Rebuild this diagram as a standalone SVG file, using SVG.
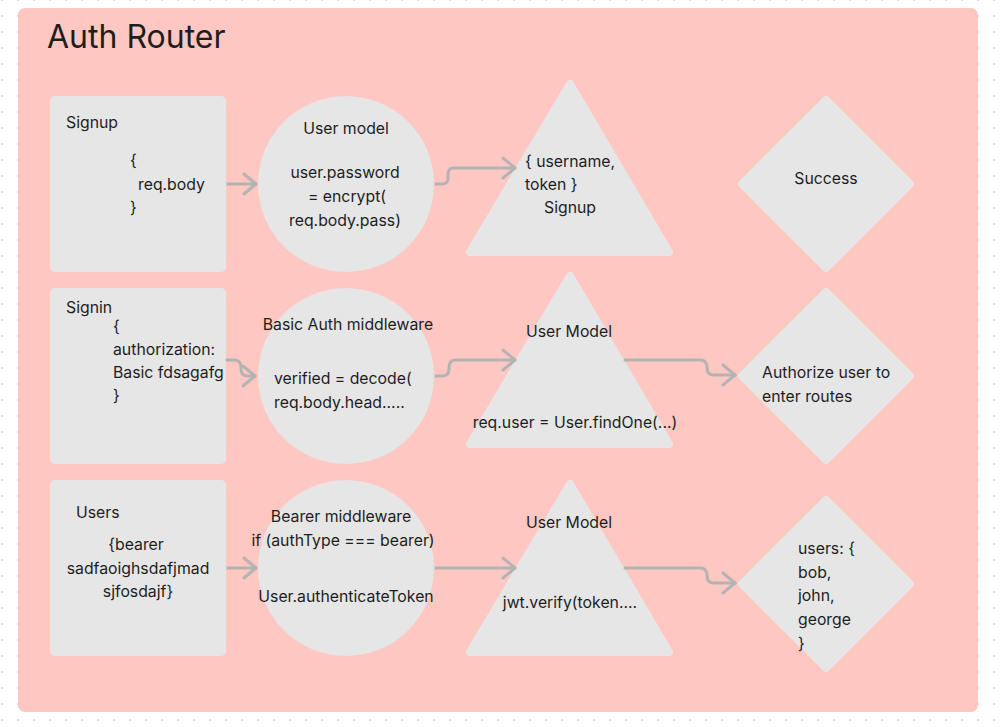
<svg xmlns="http://www.w3.org/2000/svg" width="1004" height="727" viewBox="0 0 1004 727">
<defs>
<pattern id="dots" patternUnits="userSpaceOnUse" x="-6" y="-8" width="16" height="16">
<circle cx="8" cy="8" r="1.1" fill="#d6d6d6"/>
</pattern>
<marker id="arrow" viewBox="-14 -12 16 24" markerWidth="16" markerHeight="24" markerUnits="userSpaceOnUse" refX="0" refY="0" orient="auto">
<path d="M-12,-10 L0,0 L-12,10" fill="none" stroke="#b3b3b3" stroke-width="3" stroke-linecap="round" stroke-linejoin="round"/>
</marker>
<style>
.shape{fill:#e6e6e6;}
.rshape{fill:#e6e6e6;stroke:#e6e6e6;stroke-width:8;stroke-linejoin:round;}
text{font-family:Inter,"Noto Sans","Liberation Sans",sans-serif;font-size:15.8px;fill:#1e1e1e;}
.c{text-anchor:middle;}
.conn{fill:none;stroke:#b3b3b3;stroke-width:3;stroke-linecap:round;stroke-linejoin:round;marker-end:url(#arrow);}
</style>
</defs>
<rect width="1004" height="727" fill="#ffffff"/>
<rect width="1004" height="727" fill="url(#dots)"/>
<g id="frame">
<rect x="18" y="8" width="960" height="704" rx="7" fill="#ffc7c2"/>
<text x="47" y="48" style="font-size:32px">Auth Router</text>
</g>

<g id="signup">
<rect class="shape" x="50" y="96" width="176" height="176" rx="5"/>
<text x="66" y="128">Signup</text>
<text x="130" y="166">{</text>
<text x="138" y="190">req.body</text>
<text x="130" y="213">}</text>
</g>
<g id="user-model">
<circle class="shape" cx="346" cy="184" r="88"/>
<text class="c" x="346" y="134">User model</text>
<text class="c" x="345" y="178">user.password</text>
<text class="c" x="347" y="202">= encrypt(</text>
<text class="c" x="345" y="226">req.body.pass)</text>
</g>
<g id="signup-result">
<polygon class="rshape" points="570,84 669,252 470,252"/>
<text x="525" y="167">{ username,</text>
<text x="525" y="190">token }</text>
<text x="544" y="213">Signup</text>
</g>
<g id="success">
<polygon class="rshape" points="826,100 910,184 826,268 742,184"/>
<text class="c" x="826" y="184">Success</text>
</g>

<g id="signin">
<rect class="shape" x="50" y="288" width="176" height="176" rx="5"/>
<text x="66" y="313">Signin</text>
<text x="113" y="332">{</text>
<text x="113" y="355">authorization:</text>
<text x="113" y="378">Basic fdsagafg</text>
<text x="113" y="401">}</text>
</g>
<g id="basic-auth">
<circle class="shape" cx="346" cy="376" r="88"/>
<text class="c" x="348" y="330">Basic Auth middleware</text>
<text x="274" y="384">verified = decode(</text>
<text x="274" y="408">req.body.head.....</text>
</g>
<g id="user-model-2">
<polygon class="rshape" points="570,276 669,444 470,444"/>
<text class="c" x="569" y="337">User Model</text>
<text class="c" x="575" y="428">req.user = User.findOne(...)</text>
</g>
<g id="authorize">
<polygon class="rshape" points="826,292 910,376 826,460 742,376"/>
<text x="762" y="378">Authorize user to</text>
<text x="762" y="402">enter routes</text>
</g>

<g id="users">
<rect class="shape" x="50" y="480" width="176" height="176" rx="5"/>
<text x="76" y="518">Users</text>
<text class="c" x="136" y="550">{bearer</text>
<text class="c" x="138" y="574">sadfaoighsdafjmad</text>
<text class="c" x="138" y="597">sjfosdajf}</text>
</g>
<g id="bearer">
<circle class="shape" cx="346" cy="568" r="88"/>
<text class="c" x="341" y="522">Bearer middleware</text>
<text class="c" x="343" y="546">if (authType === bearer)</text>
<text class="c" x="346" y="602">User.authenticateToken</text>
</g>
<g id="user-model-3">
<polygon class="rshape" points="570,484 669,652 470,652"/>
<text class="c" x="569" y="528">User Model</text>
<text class="c" x="570" y="608">jwt.verify(token....</text>
</g>
<g id="users-list">
<polygon class="rshape" points="826,500 910,584 826,668 742,584"/>
<text x="798" y="554">users: {</text>
<text x="798" y="578">bob,</text>
<text x="798" y="601">john,</text>
<text x="798" y="625">george</text>
<text x="798" y="649">}</text>
</g>

<g id="connectors">
<path class="conn" d="M228,184 H256"/>
<path class="conn" d="M436,184 H442 Q448,184 448,178 V174 Q448,168 454,168 H515"/>
<path class="conn" d="M227,360 H234 Q241,360 241,367 V369 Q241,376 248,376 H255"/>
<path class="conn" d="M436,376 H442 Q449,376 449,369 V367 Q449,360 456,360 H515"/>
<path class="conn" d="M625,360 H700 Q707,360 707,367 V368 Q707,375 714,375 H735"/>
<path class="conn" d="M228,568 H256"/>
<path class="conn" d="M436,568 H515"/>
<path class="conn" d="M625,568 H700 Q707,568 707,575 V576 Q707,583 714,583 H735"/>
</g>
</svg>
